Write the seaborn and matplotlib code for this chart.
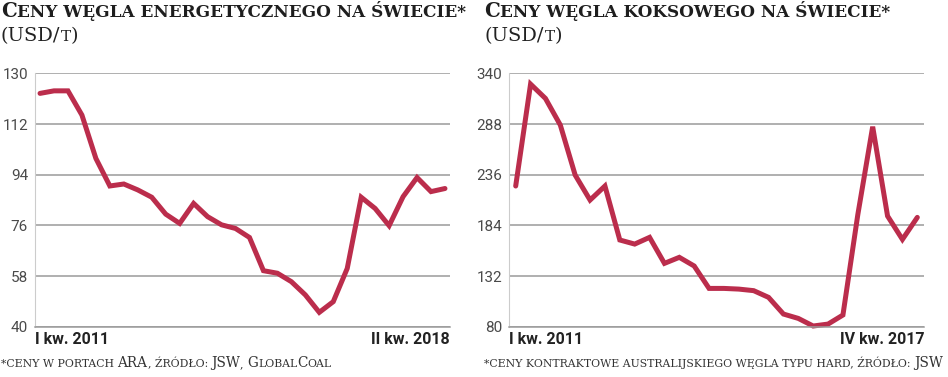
import seaborn as sns
import matplotlib.pyplot as plt
import pandas as pd

# quarterly prices, USD/t
thermal = [122.9, 123.8, 123.8, 115.2, 99.8, 90.0, 90.7, 88.6, 86.0, 80.0,
           76.7, 83.8, 79.1, 76.2, 74.9, 71.7, 59.9, 59.0, 56.0, 51.3,
           45.1, 48.9, 60.7, 86.0, 82.0, 75.9, 86.2, 93.0, 88.0, 89.1]
coking = [224.4, 329.0, 314.3, 287.0, 235.6, 210.0, 224.4, 169.0, 164.8, 171.7,
          145.0, 151.2, 142.3, 119.3, 119.3, 118.6, 117.0, 110.1, 93.0, 88.5,
          80.7, 82.7, 92.0, 195.0, 285.3, 193.6, 169.6, 192.2]

thermal_ticks = [40, 58, 76, 94, 112, 130]
coking_ticks = [80, 132, 184, 236, 288, 340]
thermal_labels = ["I kw. 2011", "II kw. 2018"]
coking_labels = ["I kw. 2011", "IV kw. 2017"]

df_t = pd.DataFrame({"q": range(len(thermal)), "price": thermal})
df_c = pd.DataFrame({"q": range(len(coking)), "price": coking})

sns.set_style("white")
plt.rcParams["font.family"] = ["DejaVu Sans"]

LINE = "#bb2d4c"
GRID = "#9a9a9a"
W, H = 948, 377
sans = ["Roboto", "DejaVu Sans"]

fig = plt.figure(figsize=(W / 100, H / 100), dpi=100)


def make_axes(x0, df, ticks, labels):
    ax = fig.add_axes([x0 / W, 50.3 / H, 415 / W, 253.3 / H])
    sns.lineplot(data=df, x="q", y="price", ax=ax, color=LINE, lw=3.6,
                 solid_joinstyle="miter", clip_on=False)
    n = len(df)
    pad = 0.36 if n == 30 else 0.45
    ax.set_xlim(-pad, n - 1 + pad)
    ax.set_ylim(ticks[0], ticks[-1])
    ax.set_yticks(ticks)
    ax.set_yticklabels([str(t) for t in ticks], family=sans,
                       fontsize=11, color="#4a4a4a")
    ax.set_xticks([-pad, n - 1 + pad])
    ax.set_xticklabels(labels, family=sans,
                       fontsize=11.5, fontweight="bold", color="#222222")
    ax.get_xticklabels()[0].set_ha("left")
    ax.get_xticklabels()[1].set_ha("right")
    ax.tick_params(length=0, pad=5)
    ax.tick_params(axis="x", pad=4)
    ax.grid(axis="y", color=GRID, lw=1.1)
    ax.set_axisbelow(True)
    for s in ["top", "right"]:
        ax.spines[s].set_visible(False)
    ax.spines["bottom"].set_color(GRID)
    ax.spines["bottom"].set_linewidth(1.1)
    ax.spines["left"].set_color("#cccccc")
    ax.spines["left"].set_linewidth(0.8)
    ax.set_xlabel("")
    ax.set_ylabel("")
    return ax


make_axes(35, df_t, thermal_ticks, thermal_labels)
make_axes(509, df_c, coking_ticks, coking_labels)

renderer = fig.canvas.get_renderer()


def caps_line(x_px, y_px, parts, **kw):
    # chain text pieces on one baseline to imitate small caps
    x = x_px / W
    y = 1 - y_px / H
    for txt, size in parts:
        t = fig.text(x, y, txt, fontsize=size, va="baseline", ha="left", **kw)
        bb = t.get_window_extent(renderer=renderer)
        x = bb.x1 / W


serif = ["DejaVu Serif"]
BIG, SMALL = 14.2, 12.2
caps_line(1, 17, [("C", BIG), ("ENY WĘGLA ENERGETYCZNEGO NA ŚWIECIE*", SMALL)],
          family=serif, fontweight="heavy", color="#1e1e1e")
caps_line(484, 17, [("C", BIG), ("ENY WĘGLA KOKSOWEGO NA ŚWIECIE*", SMALL)],
          family=serif, fontweight="heavy", color="#1e1e1e")
caps_line(1, 41, [("(USD/", 14), ("T", 11), (")", 14)], family=serif, color="#222222")
caps_line(485, 41, [("(USD/", 14), ("T", 11), (")", 14)], family=serif, color="#222222")

FB, FS = 9.8, 7.8
caps_line(1, 367, [("*CENY W PORTACH ", FS), ("ARA", FB), (", ŹRÓDŁO: ", FS), ("JSW", FB),
                   (", ", FS), ("G", FB), ("LOBAL", FS), ("C", FB), ("OAL", FS)],
          family=serif, color="#333333")
caps_line(484, 367, [("*CENY KONTRAKTOWE AUSTRALIJSKIEGO WĘGLA TYPU HARD, ŹRÓDŁO: ", FS),
                     ("JSW", FB)], family=serif, color="#333333")

fig.savefig("out.png", dpi=100)
